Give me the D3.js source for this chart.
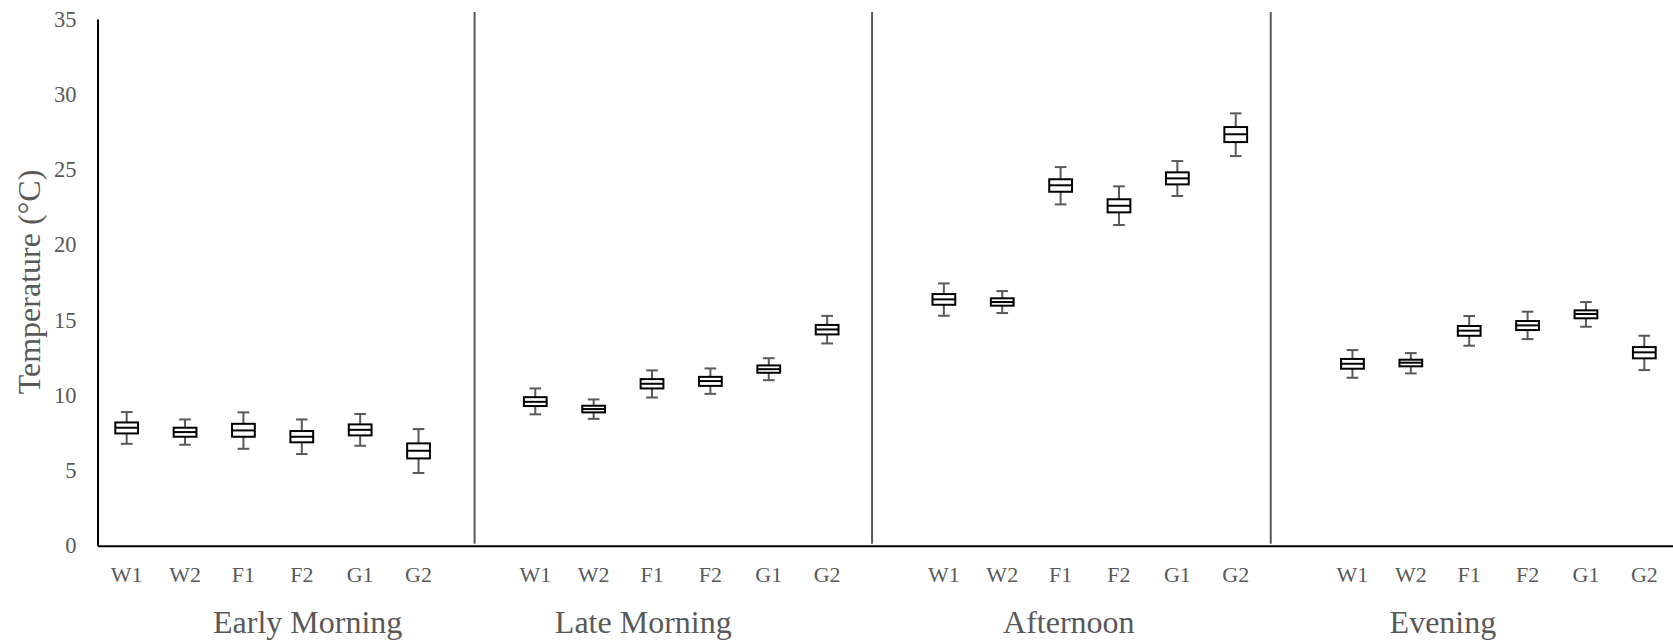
<!DOCTYPE html>
<html>
<head>
<meta charset="utf-8">
<script src="https://cdn.jsdelivr.net/npm/d3@7"></script>
<style>
  html, body { margin: 0; padding: 0; background: #ffffff; }
  svg { display: block; }
  text { font-family: "Liberation Serif", "Times New Roman", serif; fill: #595959; }
</style>
</head>
<body>
<svg id="chart" width="1673" height="642"></svg>
<script>
// Time-of-day periods and the six measurement sites within each
const periods = ["Early Morning", "Late Morning", "Afternoon", "Evening"];
const sites = ["W1", "W2", "F1", "F2", "G1", "G2"];
const yTicks = [0, 5, 10, 15, 20, 25, 30, 35];

// Five-number summaries per site: [lower whisker, Q1, median, Q3, upper whisker] (°C)
const earlyMorning = [
  [6.77, 7.46, 7.84, 8.19, 8.88],
  [6.71, 7.24, 7.55, 7.84, 8.39],
  [6.44, 7.24, 7.66, 8.10, 8.86],
  [6.09, 6.87, 7.24, 7.62, 8.39],
  [6.64, 7.33, 7.70, 8.06, 8.75],
  [4.83, 5.80, 6.31, 6.80, 7.75]
];
const lateMorning = [
  [8.73, 9.28, 9.56, 9.87, 10.45],
  [8.43, 8.86, 9.08, 9.30, 9.72],
  [9.85, 10.45, 10.76, 11.07, 11.65],
  [10.09, 10.62, 10.94, 11.22, 11.78],
  [11.00, 11.49, 11.73, 11.98, 12.46],
  [13.44, 14.04, 14.37, 14.67, 15.27]
];
const afternoon = [
  [15.28, 16.01, 16.37, 16.72, 17.43],
  [15.46, 15.95, 16.19, 16.44, 16.92],
  [22.68, 23.52, 23.95, 24.35, 25.16],
  [21.31, 22.15, 22.59, 23.02, 23.88],
  [23.24, 24.01, 24.41, 24.81, 25.56],
  [25.89, 26.82, 27.34, 27.82, 28.73]
];
const evening = [
  [11.16, 11.76, 12.09, 12.41, 13.00],
  [11.45, 11.92, 12.16, 12.36, 12.80],
  [13.29, 13.95, 14.29, 14.60, 15.26],
  [13.73, 14.33, 14.64, 14.93, 15.55],
  [14.55, 15.11, 15.40, 15.64, 16.19],
  [11.67, 12.45, 12.85, 13.20, 13.95]
];
const periodStats = [earlyMorning, lateMorning, afternoon, evening];

// Layout
const W = 1673, H = 642;
const plotLeft = 97.5, plotRight = 1673.5, plotTop = 19, plotBottom = 545.7;
// separator lines and period captions, in category-slot units along the x axis
const separatorSlots = [6.46, 13.27, 20.10];
const captionSlots = [3.60, 9.35, 16.64, 23.05];

// Category slots: six sites per period with an empty slot between periods
const slotKeys = [];
periods.forEach((p, gi) => {
  sites.forEach(s => slotKeys.push(gi + "|" + s));
  if (gi < periods.length - 1) slotKeys.push("gap" + gi);
});

const rows = [];
periods.forEach((p, gi) => {
  sites.forEach((s, si) => {
    const [lo, q1, med, q3, hi] = periodStats[gi][si];
    rows.push({ key: gi + "|" + s, period: p, site: s, lo, q1, med, q3, hi });
  });
});

const svg = d3.select("#chart");
svg.append("rect").attr("width", W).attr("height", H).attr("fill", "#ffffff");

const x = d3.scaleBand().domain(slotKeys).range([plotLeft, plotRight]).paddingInner(0).paddingOuter(0);
const slotPos = d3.scaleLinear().domain([0, slotKeys.length]).range([plotLeft, plotRight]);
const y = d3.scaleLinear().domain([0, 35]).range([plotBottom, plotTop]);

// Period separator lines
svg.append("g")
  .selectAll("line")
  .data(separatorSlots)
  .join("line")
  .attr("x1", d => slotPos(d)).attr("x2", d => slotPos(d))
  .attr("y1", 12).attr("y2", plotBottom - 2)
  .attr("stroke", "#595959").attr("stroke-width", 2);

// Y axis
const yAxis = svg.append("g")
  .attr("transform", `translate(${plotLeft},0)`)
  .call(d3.axisLeft(y).tickValues(yTicks).tickSize(0).tickSizeOuter(0).tickPadding(21));
yAxis.select(".domain").attr("stroke", "#000").attr("stroke-width", 2);
yAxis.selectAll("text")
  .style("font-size", "22.5px")
  .style("fill", "#595959");

// X axis with site labels
const xAxis = svg.append("g")
  .attr("transform", `translate(0,${plotBottom})`)
  .call(d3.axisBottom(x)
    .tickSize(0).tickSizeOuter(0).tickPadding(21)
    .tickFormat(k => k.startsWith("gap") ? "" : k.split("|")[1]));
xAxis.select(".domain").attr("stroke", "#000").attr("stroke-width", 2);
xAxis.selectAll("text")
  .style("font-size", "22px")
  .style("fill", "#595959");

// Period captions
svg.append("g")
  .selectAll("text")
  .data(periods)
  .join("text")
  .attr("x", (d, i) => slotPos(captionSlots[i]))
  .attr("y", 633)
  .attr("text-anchor", "middle")
  .style("font-size", "32px")
  .text(d => d);

// Y axis title
svg.append("text")
  .attr("transform", "translate(29,282) rotate(-90)")
  .attr("text-anchor", "middle")
  .attr("dominant-baseline", "central")
  .style("font-size", "32px")
  .text("Temperature (°C)");

// Box plots
const bw = x.bandwidth();
const boxW = bw * 0.39;
const capW = bw * 0.2;
const boxes = svg.append("g")
  .selectAll("g")
  .data(rows)
  .join("g")
  .attr("transform", d => `translate(${x(d.key) + bw / 2},0)`);

// whiskers
boxes.append("line")
  .attr("x1", 0).attr("x2", 0)
  .attr("y1", d => y(d.hi)).attr("y2", d => y(d.q3))
  .attr("stroke", "#595959").attr("stroke-width", 2);
boxes.append("line")
  .attr("x1", 0).attr("x2", 0)
  .attr("y1", d => y(d.q1)).attr("y2", d => y(d.lo))
  .attr("stroke", "#595959").attr("stroke-width", 2);
// caps
boxes.append("line")
  .attr("x1", -capW / 2).attr("x2", capW / 2)
  .attr("y1", d => y(d.hi)).attr("y2", d => y(d.hi))
  .attr("stroke", "#595959").attr("stroke-width", 2);
boxes.append("line")
  .attr("x1", -capW / 2).attr("x2", capW / 2)
  .attr("y1", d => y(d.lo)).attr("y2", d => y(d.lo))
  .attr("stroke", "#595959").attr("stroke-width", 2);
// interquartile box
boxes.append("rect")
  .attr("x", -boxW / 2)
  .attr("width", boxW)
  .attr("y", d => y(d.q3))
  .attr("height", d => y(d.q1) - y(d.q3))
  .attr("fill", "#ffffff")
  .attr("stroke", "#000").attr("stroke-width", 2);
// median
boxes.append("line")
  .attr("x1", -boxW / 2).attr("x2", boxW / 2)
  .attr("y1", d => y(d.med)).attr("y2", d => y(d.med))
  .attr("stroke", "#000").attr("stroke-width", 2);
</script>
</body>
</html>
